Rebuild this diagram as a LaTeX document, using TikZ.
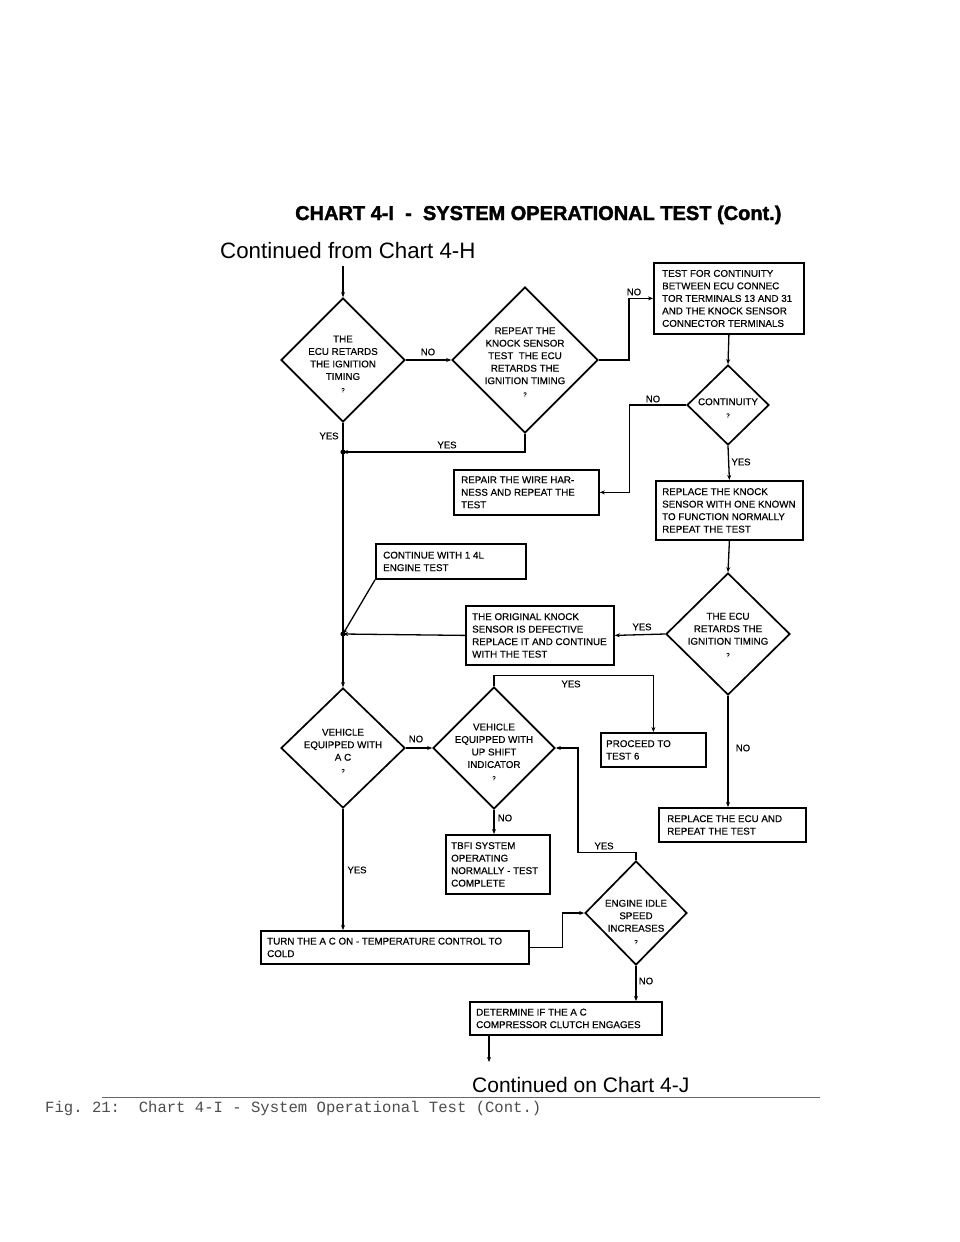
\documentclass[tikz,border=0pt]{standalone}
\usepackage{fontspec}
\setmainfont{Liberation Sans}
\newfontfamily\dfont{Liberation Sans}[FakeBold=0.4]
\newfontfamily\plainfont{Liberation Sans}
\newfontfamily\hfont{Liberation Sans Bold}[FakeBold=2]
\newfontfamily\mfont{Liberation Mono}
\usetikzlibrary{shapes.geometric,arrows.meta}
\newcommand\qmark{{\fontsize{6}{6}\selectfont ?}}
\begin{document}
\begin{tikzpicture}[x=1pt,y=-1pt,
  box/.style={draw, line width=1.8pt, rectangle, inner sep=0pt, anchor=north west},
  dia/.style={draw, line width=1.7pt, diamond, inner sep=0pt},
  txt/.style={font=\dfont\fontsize{9.8}{12.5}\selectfont, align=left, inner sep=0pt, anchor=west},
  ctxt/.style={font=\dfont\fontsize{9.8}{12.5}\selectfont, align=center, inner sep=0pt},
  lbl/.style={font=\dfont\fontsize{9.5}{11}\selectfont, inner sep=0pt},
  con/.style={line width=1.3pt},
  arr/.style={con, -{Stealth[length=5pt,width=4pt]}},
]
\useasboundingbox[fill=white] (0,0) rectangle (960,1242);

% headings
\node[font=\hfont\fontsize{20}{24}\selectfont, anchor=base west, inner sep=0pt] (title) at (295,220)
  {CHART 4-I\ \ -\ \ SYSTEM OPERATIONAL TEST (Cont.)};
\node[font=\plainfont\fontsize{22.3}{26}\selectfont, anchor=base west, inner sep=0pt] (cfrom) at (220,258)
  {Continued from Chart 4-H};
\node[font=\plainfont\fontsize{21}{25}\selectfont, anchor=base west, inner sep=0pt] (con) at (472,1092)
  {Continued on Chart 4-J};
\coordinate (rulea) at (102,1097);
\coordinate (ruleb) at (820,1097);
\draw[line width=0.8pt, black!60] (rulea) -- (ruleb);
\node[font=\mfont\fontsize{15.6}{18}\selectfont, text=black!70, anchor=base west, inner sep=0pt] (cap) at (45,1112)
  {\frenchspacing Fig. 21:\ \ Chart 4-I - System Operational Test (Cont.)};

% diamonds
\node[dia, minimum width=124pt, minimum height=124pt] (d1) at (343,360) {};
\node[ctxt] (d1t) at (343,364) {THE\\ECU RETARDS\\THE IGNITION\\TIMING\\\qmark};
\node[dia, minimum width=146pt, minimum height=146pt] (d2) at (525,360) {};
\node[ctxt] (d2t) at (525,362) {REPEAT THE\\KNOCK SENSOR\\TEST\ \ THE ECU\\RETARDS THE\\IGNITION TIMING\\\qmark};
\node[dia, minimum width=82pt, minimum height=80pt] (d3) at (728,405) {};
\node[ctxt] (d3t) at (728,408) {CONTINUITY\\\qmark};
\node[dia, minimum width=124pt, minimum height=122pt] (d4) at (728,634) {};
\node[ctxt] (d4t) at (728,635) {THE ECU\\RETARDS THE\\IGNITION TIMING\\\qmark};
\node[dia, minimum width=124pt, minimum height=120pt] (d5) at (343,748) {};
\node[ctxt] (d5t) at (343,751) {VEHICLE\\EQUIPPED WITH\\A C\\\qmark};
\node[dia, minimum width=122pt, minimum height=122pt] (d6) at (494,748) {};
\node[ctxt] (d6t) at (494,752) {VEHICLE\\EQUIPPED WITH\\UP SHIFT\\INDICATOR\\\qmark};
\node[dia, minimum width=102pt, minimum height=104pt] (d7) at (636,913) {};
\node[ctxt] (d7t) at (636,922) {ENGINE IDLE\\SPEED\\INCREASES\\\qmark};

% boxes
\node[box, minimum width=150pt, minimum height=71pt] (b1) at (653,262) {};
\node[txt] (b1t) at ([xshift=9pt]b1.west) {TEST FOR CONTINUITY\\BETWEEN ECU CONNEC\\TOR TERMINALS 13 AND 31\\AND THE KNOCK SENSOR\\CONNECTOR TERMINALS};
\node[box, minimum width=145pt, minimum height=45pt] (b2) at (453,469) {};
\node[txt] (b2t) at ([xshift=8pt]b2.west) {REPAIR THE WIRE HAR-\\NESS AND REPEAT THE\\TEST};
\node[box, minimum width=147pt, minimum height=59pt] (b3) at (655,480) {};
\node[txt] (b3t) at ([xshift=7pt]b3.west) {REPLACE THE KNOCK\\SENSOR WITH ONE KNOWN\\TO FUNCTION NORMALLY\\REPEAT THE TEST};
\node[box, minimum width=150pt, minimum height=35pt] (b4) at (375,543) {};
\node[txt] (b4t) at ([xshift=8pt]b4.west) {CONTINUE WITH 1 4L\\ENGINE TEST};
\node[box, minimum width=148pt, minimum height=59pt] (b5) at (465,605) {};
\node[txt] (b5t) at ([xshift=7pt]b5.west) {THE ORIGINAL KNOCK\\SENSOR IS DEFECTIVE\\REPLACE IT AND CONTINUE\\WITH THE TEST};
\node[box, minimum width=105pt, minimum height=34pt] (b6) at (600,732) {};
\node[txt] (b6t) at ([xshift=6pt]b6.west) {PROCEED TO\\TEST 6};
\node[box, minimum width=104pt, minimum height=59pt] (b7) at (445,834) {};
\node[txt] (b7t) at ([xshift=6pt]b7.west) {TBFI SYSTEM\\OPERATING\\NORMALLY - TEST\\COMPLETE};
\node[box, minimum width=147pt, minimum height=34pt] (b8) at (658,807) {};
\node[txt] (b8t) at ([xshift=9pt]b8.west) {REPLACE THE ECU AND\\REPEAT THE TEST};
\node[box, minimum width=268pt, minimum height=33pt] (b9) at (260,930) {};
\node[txt] (b9t) at ([xshift=7pt]b9.west) {TURN THE A C ON - TEMPERATURE CONTROL TO\\COLD};
\node[box, minimum width=192pt, minimum height=33pt] (b10) at (469,1001) {};
\node[txt] (b10t) at ([xshift=7pt]b10.west) {DETERMINE IF THE A C\\COMPRESSOR CLUTCH ENGAGES};

% coordinates
\coordinate (start) at (343,266);
\coordinate (j1) at (343,452);
\coordinate (j2) at (343,634);
\coordinate (c7) at (578,748);
\coordinate (endpt) at (489,1062);

% connectors
\draw[arr] (start) -- (d1.north);
\draw[arr] (d1.east) -- (d2.west);
\draw[arr] (d2.east) -- ++(30,0) |- (b1.west);
\draw[arr] (b1.south) -- (d3.north);
\draw[arr] (d3.west) -- ++(-57,0) |- (b2.east);
\draw[arr] (d3.south) -- (b3.north);
\draw[arr] (d2.south) |- (j1);
\draw[con] (d1.south) -- (j1);
\draw[con] (j1) -- (j2);
\draw[arr] (j2) -- (d5.north);
\draw[arr] (b4.south west) -- (j2);
\draw[arr] (b5.west) -- (j2);
\fill (j1) circle (2.6);
\fill (j2) circle (2.6);
\draw[arr] (b3.south) -- (d4.north);
\draw[arr] (d4.west) -- (b5.east);
\draw[arr] (d4.south) -- (d4.south |- b8.north);
\draw[arr] (d5.east) -- (d6.west);
\draw[arr] (d6.north) -- ++(0,-11) -| (b6.north);
\draw[arr] (d6.south) -- (d6.south |- b7.north);
\draw[arr] (d7.north) -- ++(0,-8) -| (c7) -- (d6.east);
\draw[arr] (d5.south) -- (d5.south |- b9.north);
\draw[arr] (b9.east) -- ++(33,0) |- (d7.west);
\draw[arr] (d7.south) -- (d7.south |- b10.north);
\draw[arr] (endpt |- b10.south) -- (endpt);

% labels
\node[lbl] (l1) at (428,352) {NO};
\node[lbl] (l2) at (634,292) {NO};
\node[lbl] (l3) at (653,399) {NO};
\node[lbl] (l4) at (741,462) {YES};
\node[lbl] (l5) at (447,445) {YES};
\node[lbl] (l6) at (329,436) {YES};
\node[lbl] (l7) at (642,627) {YES};
\node[lbl] (l8) at (743,748) {NO};
\node[lbl] (l9) at (416,739) {NO};
\node[lbl] (l10) at (571,684) {YES};
\node[lbl] (l11) at (505,818) {NO};
\node[lbl] (l12) at (604,846) {YES};
\node[lbl] (l13) at (357,870) {YES};
\node[lbl] (l14) at (646,981) {NO};
\end{tikzpicture}
\end{document}
